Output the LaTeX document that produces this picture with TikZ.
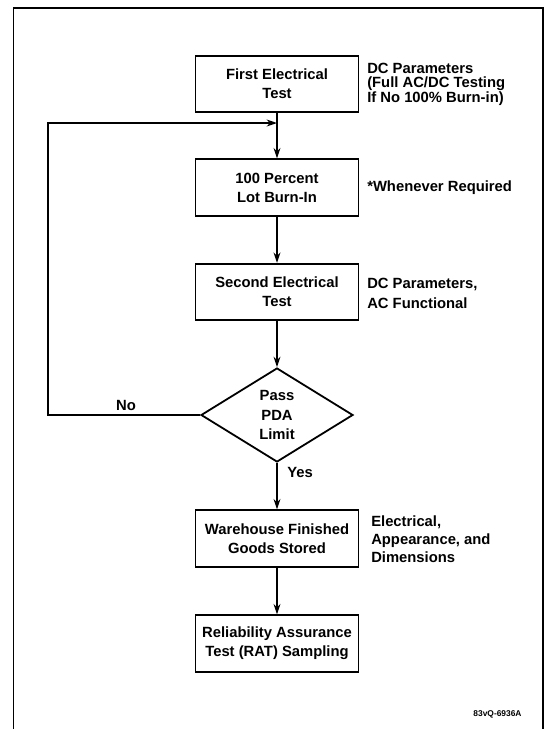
\documentclass[tikz,border=0pt]{standalone}
\usepackage{fontspec}
\setmainfont{Liberation Sans}
\usepackage{tikz}
\usetikzlibrary{shapes.geometric,arrows.meta}

\begin{document}
\begin{tikzpicture}[x=0.75pt,y=-0.75pt,
    testbox/.style={draw,line width=1.35pt,minimum width=122.25pt,minimum height=42.5pt,inner sep=0pt,align=center,font=\fontsize{11.1}{14.25}\selectfont\bfseries},
    decide/.style={draw,diamond,aspect=1.6,line width=1.35pt,minimum width=114pt,minimum height=70.5pt,inner sep=0pt,align=center,font=\fontsize{11.1}{14.6}\selectfont\bfseries},
    remark/.style={anchor=west,align=left,inner sep=0pt,font=\fontsize{11.1}{14.25}\selectfont\bfseries},
    flow/.style={line width=1pt,-{Stealth[length=7.8pt,width=5.2pt]}}]
    \useasboundingbox (0,0) rectangle (545,729);
    \draw[line width=1.1pt] (13.5,735) -- (13.5,8) -- (543,8) -- (543,735);

    \node[testbox] (first) at (277,84) {First Electrical\\Test};
    \node[testbox] (burnin) at (277,187.5) {100 Percent\\Lot Burn-In};
    \node[testbox] (second) at (277,292) {Second Electrical\\Test};
    \node[decide] (pda) at (277,415) {Pass\\PDA\\Limit};
    \node[testbox] (store) at (277,538.5) {Warehouse Finished\\Goods Stored};
    \node[testbox] (rat) at (277,643.5) {Reliability Assurance\\Test (RAT) Sampling};

    \node[remark,font=\fontsize{11.1}{10.9}\selectfont\bfseries] (dcfirst) at (367,84)
      {DC Parameters\\(Full AC/DC Testing\\If No 100\% Burn-in)};
    \node[remark] (whenever) at (367,187.5) {*Whenever Required};
    \node[remark,font=\fontsize{11.1}{15}\selectfont\bfseries] (dcsecond) at (367,293)
      {DC Parameters,\\AC Functional};
    \node[remark,font=\fontsize{11.1}{13.5}\selectfont\bfseries] (checks) at (371,539.5)
      {Electrical,\\Appearance, and\\Dimensions};

    \coordinate (loop) at (48,415);
    \coordinate (join) at (277,123);
    \draw[flow] (first) -- (burnin);
    \draw[flow] (burnin) -- (second);
    \draw[flow] (second) -- (pda);
    \draw[flow] (pda.west) -- (loop) |- (join);
    \draw[flow] (pda) -- (store);
    \draw[flow] (store) -- (rat);

    \node[remark,anchor=center] (no) at (126,405) {No};
    \node[remark] (yes) at (287,472) {Yes};
    \node[font=\fontsize{6.3}{7}\selectfont\bfseries,inner sep=0pt] (figno) at (497.5,714) {83vQ-6936A};
  \end{tikzpicture}
\end{document}
